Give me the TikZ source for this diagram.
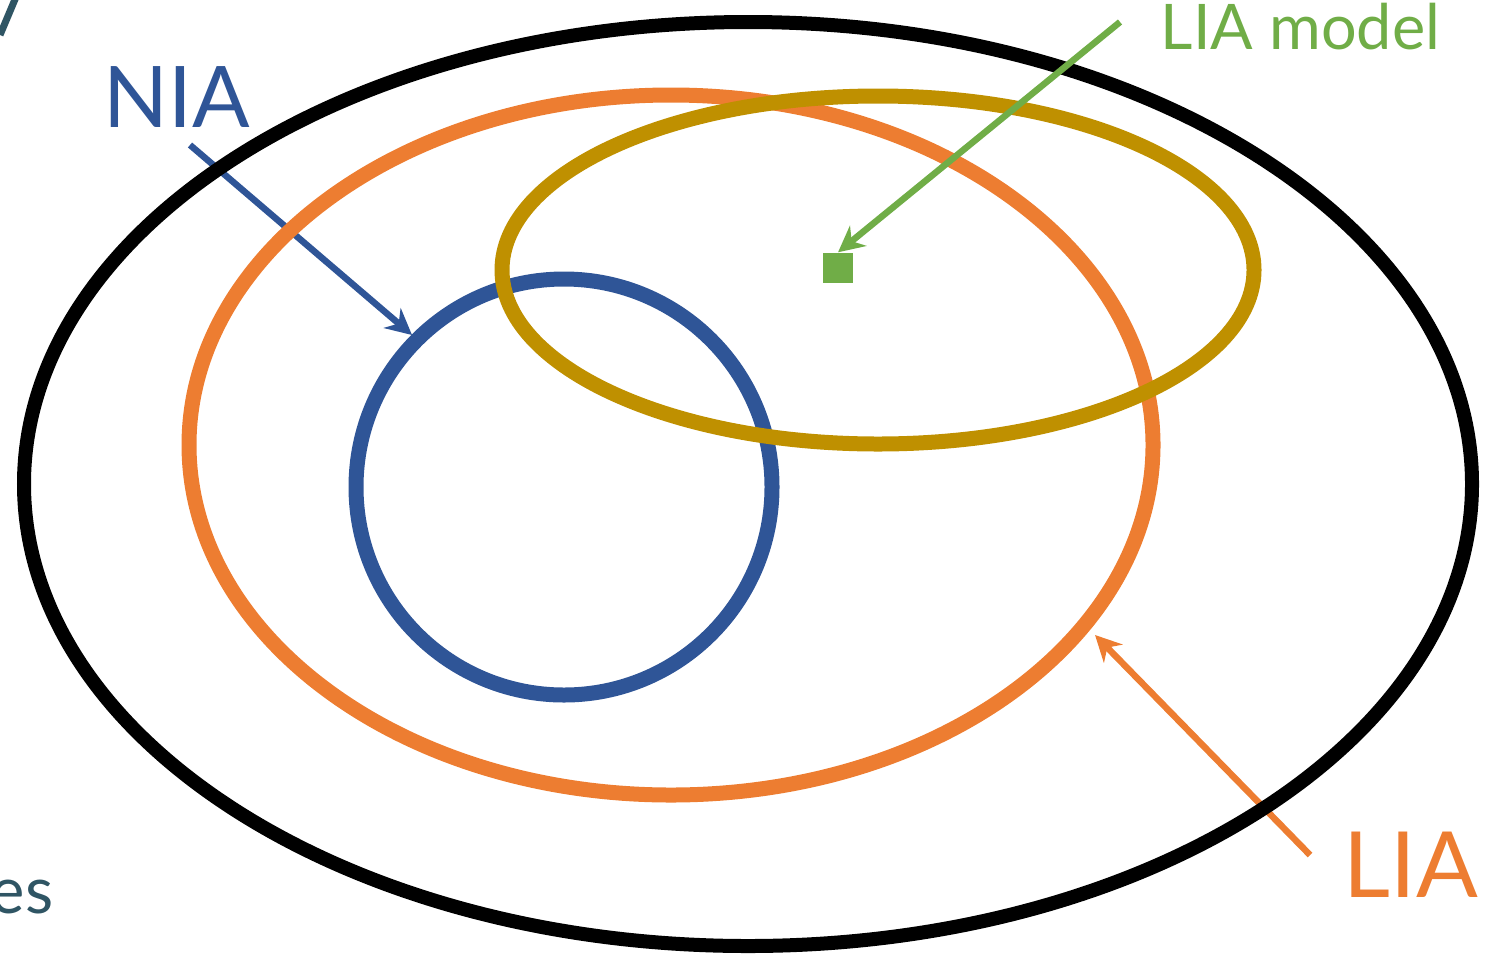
\documentclass[tikz,border=0pt]{standalone}
\usepackage{fontspec}
\setmainfont{Lato}
\usetikzlibrary{shapes.geometric,arrows.meta,positioning,backgrounds}
\definecolor{NiaBlue}{RGB}{47,85,151}
\definecolor{LiaOrange}{RGB}{237,125,49}
\definecolor{ModelGold}{RGB}{191,144,0}
\definecolor{ModelGreen}{RGB}{112,173,71}
\definecolor{SlateTeal}{RGB}{47,85,100}
\tikzset{
  setring/.style={ellipse,draw,inner sep=0pt,line width=0.15cm},
  pointer/.style={-{Stealth[length=2.6mm,width=2.6mm]},line width=0.065cm},
  tag/.style={inner sep=0pt,anchor=base west}
}

\begin{document}
\begin{tikzpicture}
  \useasboundingbox (0,0) rectangle (14.85,9.63);
  % sets
  \node[setring,line width=0.14cm,minimum width=14.48cm,minimum height=9.24cm] (all) at (7.48,4.79) {};
  \node[setring,draw=LiaOrange,minimum width=9.64cm,minimum height=7.00cm] (lia) at (6.71,5.18) {};
  \node[setring,draw=NiaBlue,circle,minimum size=4.16cm] (nia) at (5.64,4.76) {};
  \node[setring,draw=ModelGold,minimum width=7.52cm,minimum height=3.48cm] (model) at (8.78,6.93) {};
  \node[rectangle,fill=ModelGreen,minimum size=0.30cm,inner sep=0pt] (pt) at (8.38,6.95) {};
  % labels
  \node[tag,NiaBlue,font=\fontsize{24.2}{29}\selectfont] (nialbl) at (1.03,8.36) {NIA};
  \node[tag,LiaOrange,font=\fontsize{26}{31}\selectfont] (lialbl) at (13.43,0.66) {LIA};
  \node[tag,ModelGreen,font=\fontsize{17.9}{22}\selectfont] (modellbl) at (11.60,9.13) {LIA model};
  \node[inner sep=0pt,anchor=base east,SlateTeal,font=\fontsize{18.5}{22}\selectfont] (cut) at (0.54,0.50) {es};
  \draw[SlateTeal,line width=0.07cm] (0,9.28) -- (0.16,9.66);
  % pointers
  \coordinate (niafrom) at (1.90,8.18);
  \coordinate (niatip) at (4.12,6.28);
  \coordinate (liafrom) at (13.10,1.08);
  \coordinate (liatip) at (10.95,3.28);
  \coordinate (modelfrom) at (11.20,9.41);
  \begin{scope}[on background layer]
    \draw[pointer,NiaBlue] (niafrom) -- (niatip);
    \draw[pointer,LiaOrange] (liafrom) -- (liatip);
  \end{scope}
  \draw[pointer,ModelGreen] (modelfrom) -- (pt.north);
\end{tikzpicture}
\end{document}
